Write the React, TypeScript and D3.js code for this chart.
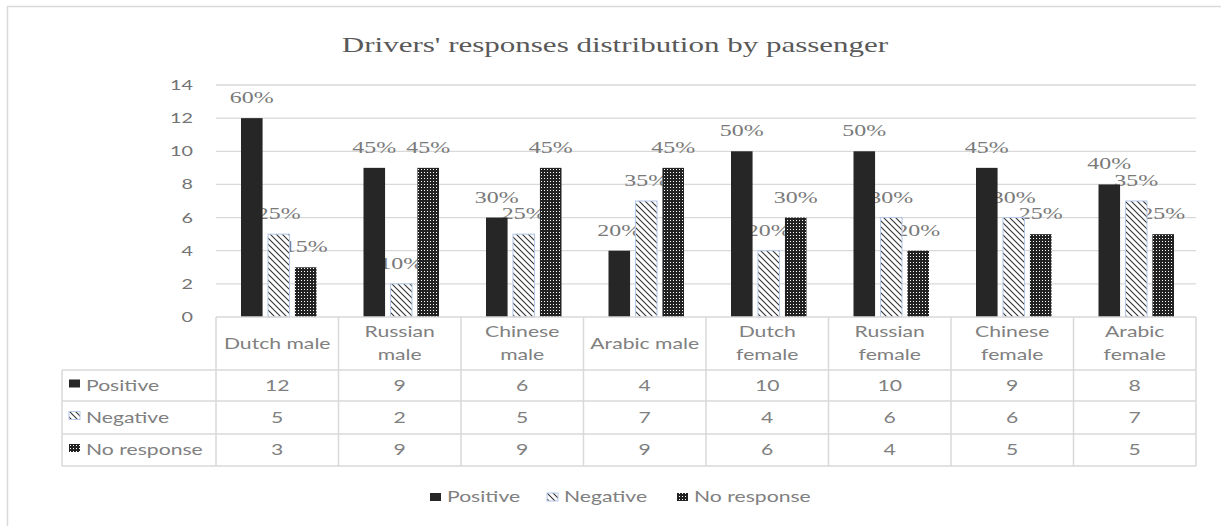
import React from 'react';
import * as d3 from 'd3';

const categories = [
  'Dutch male',
  'Russian male',
  'Chinese male',
  'Arabic male',
  'Dutch female',
  'Russian female',
  'Chinese female',
  'Arabic female',
];
const seriesNames = ['Positive', 'Negative', 'No response'];
const positive = [12, 9, 6, 4, 10, 10, 9, 8];
const negative = [5, 2, 5, 7, 4, 6, 6, 7];
const noResponse = [3, 9, 9, 9, 6, 4, 5, 5];
const yTicks = [0, 2, 4, 6, 8, 10, 12, 14];

const W = 1221;
const H = 526;
const SX = 1.41; // the picture is stretched sideways
const plot = {left: 216, right: 1196, top: 85, bottom: 317};
const rows = [317, 370, 401, 434, 466];
const rowLabelLeft = 62;
const grid = '#d9d9d9';
const textGray = '#808080';
const sans = 'Lato, "Open Sans", sans-serif';
const serif = '"Liberation Serif", "Times New Roman", serif';

const fills = ['#262626', 'url(#hatch)', 'url(#dots)'];
const strokes = ['none', '#b4c7e7', 'none'];

const SText = ({x, y, anchor = 'middle', size = 15, family = sans, fill = textGray, children}: any) => (
  <text
    transform={`translate(${x},${y}) scale(${SX},1)`}
    textAnchor={anchor}
    fontFamily={family}
    fontSize={size}
    fill={fill}
  >
    {children}
  </text>
);

const Key = ({x, y, i}: {x: number; y: number; i: number}) => (
  <rect x={x} y={y} width={11} height={8} fill={fills[i]} stroke={strokes[i]} strokeWidth={1} />
);

export default function App() {
  const values = [positive, negative, noResponse];
  const totals = categories.map((_, c) => d3.sum(values, (s) => s[c]));
  const pct = d3.format('.0%');

  const x0 = d3.scaleBand().domain(categories).range([plot.left, plot.right]);
  const bw = x0.bandwidth();
  const x1 = d3.scaleBand().domain(seriesNames).range([25, bw - 22]).paddingInner(0.2);
  const y = d3.scaleLinear().domain([0, 14]).range([plot.bottom, plot.top]);

  const bars = categories.flatMap((cat, c) =>
    seriesNames.map((s, i) => ({cat, c, s, i, v: values[i][c]})),
  );

  return (
    <svg width={W} height={H} style={{position: 'absolute', left: 0, top: 0, background: '#fff'}}>
      <defs>
        <pattern id="hatch" patternUnits="userSpaceOnUse" width={6} height={6}>
          <rect width={6} height={6} fill="#fff" />
          <path d="M-1,5 l2,2 M0,0 l6,6 M5,-1 l2,2" stroke="#333" strokeWidth={1.1} />
        </pattern>
        <pattern id="dots" patternUnits="userSpaceOnUse" width={3} height={3}>
          <rect width={3} height={3} fill="#222" />
          <rect x={1} y={1} width={1} height={1} fill="#fff" />
        </pattern>
      </defs>

      {/* outer frame */}
      <line x1={7.5} x2={7.5} y1={6.5} y2={H} stroke={grid} strokeWidth={1.5} />
      <line x1={7} x2={W} y1={6.5} y2={6.5} stroke={grid} strokeWidth={1.5} />

      <SText x={615} y={52} size={22} family={serif} fill="#595959">
        Drivers' responses distribution by passenger
      </SText>

      {/* gridlines and y ticks */}
      {yTicks.map((t) => (
        <g key={t}>
          {t > 0 && (
            <line x1={plot.left} x2={plot.right} y1={y(t)} y2={y(t)} stroke={grid} strokeWidth={1.3} />
          )}
          <SText x={193} y={y(t) + 5} anchor="end" size={14} fill="#737373">
            {t}
          </SText>
        </g>
      ))}

      {/* data labels, drawn beneath the bars */}
      {bars.map((d) => (
        <SText
          key={`l${d.c}${d.i}`}
          x={x0(d.cat)! + x1(d.s)! + x1.bandwidth() / 2}
          y={y(d.v) - 15}
          size={17}
          family={serif}
          fill="#7a7a7a"
        >
          {pct(d.v / totals[d.c])}
        </SText>
      ))}

      {bars.map((d) => (
        <rect
          key={`b${d.c}${d.i}`}
          x={x0(d.cat)! + x1(d.s)!}
          y={y(d.v)}
          width={x1.bandwidth()}
          height={y(0) - y(d.v)}
          fill={fills[d.i]}
          stroke={strokes[d.i]}
          strokeWidth={1}
        />
      ))}

      {/* data table */}
      <g stroke={grid} strokeWidth={1.5}>
        <line x1={plot.left} x2={plot.right} y1={rows[0]} y2={rows[0]} />
        {rows.slice(1).map((r) => (
          <line key={r} x1={rowLabelLeft} x2={plot.right} y1={r} y2={r} />
        ))}
        <line x1={rowLabelLeft} x2={rowLabelLeft} y1={rows[1]} y2={rows[4]} />
        {categories.map((c) => (
          <line key={c} x1={x0(c)} x2={x0(c)} y1={rows[0]} y2={rows[4]} />
        ))}
        <line x1={plot.right} x2={plot.right} y1={rows[0]} y2={rows[4]} />
      </g>

      {categories.map((c) => {
        const cx = x0(c)! + bw / 2;
        const mid = (rows[0] + rows[1]) / 2;
        const lines = c.length <= 11 ? [c] : c.split(' ');
        return (
          <g key={c}>
            {lines.map((l, k) => (
              <SText key={l} x={cx} y={mid + 5 + (k - (lines.length - 1) / 2) * 23}>
                {l}
              </SText>
            ))}
          </g>
        );
      })}

      {seriesNames.map((s, i) => {
        const cy = (rows[i + 1] + rows[i + 2]) / 2;
        return (
          <g key={s}>
            <Key x={69} y={cy - 6} i={i} />
            <SText x={86} y={cy + 5} anchor="start">
              {s}
            </SText>
            {categories.map((c, k) => (
              <SText key={c} x={x0(c)! + bw / 2} y={cy + 5}>
                {values[i][k]}
              </SText>
            ))}
          </g>
        );
      })}

      {/* legend */}
      {seriesNames.map((s, i) => {
        const lx = [430, 547, 677][i];
        return (
          <g key={s}>
            <Key x={lx} y={493} i={i} />
            <SText x={lx + 17} y={502} anchor="start">
              {s}
            </SText>
          </g>
        );
      })}
    </svg>
  );
}
